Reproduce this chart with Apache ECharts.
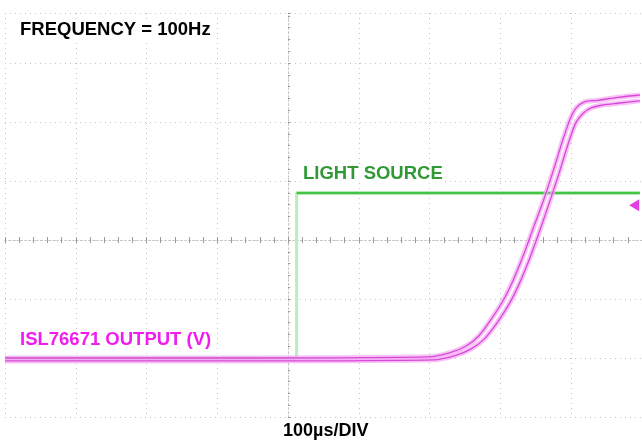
<!DOCTYPE html>
<html>
<head>
<meta charset="utf-8">
<script src="https://cdn.jsdelivr.net/npm/echarts@6/dist/echarts.min.js"></script>
<style>html,body{margin:0;padding:0;background:#fff;}#c{width:642px;height:440px;}</style>
</head>
<body>
<div id="c"></div>
<script>
// time in µs (100 µs/div), amplitude in divisions
var outAx = [-400,-125,199,231,251,269,287,304,318,332,346,361,375,389,399,407,418,438,466,497];
var outAy = [-2.0,-2.0,-1.98,-1.9,-1.8,-1.63,-1.34,-1.02,-0.68,-0.27,0.19,0.68,1.19,1.73,2.07,2.24,2.34,2.37,2.42,2.46];
var outBx = [-400,-125,206,238,258,277,296,313,327,341,355,369,383,397,407,417,428,445,466,497];
var outBy = [-2.05,-2.05,-2.03,-1.95,-1.85,-1.68,-1.39,-1.07,-0.73,-0.32,0.14,0.63,1.14,1.68,2.0,2.15,2.24,2.29,2.32,2.36];
var lightX = [-400, 12, 12, 497];
var lightY = [-2.0, -2.0, 0.8, 0.8];
var lightHighX = [12, 497];
var lightHighY = [0.8, 0.8];
var trigMarker = [489, 0.59];
var timeMarker = [0, 3.98];

function pairs(xs, ys){ return xs.map(function(x,i){ return [x, ys[i]]; }); }

var gridColor = '#c4c4c4';
function xAx(inside, split){
  return {type:'value', min:-400, max:500, interval:100, position:'bottom',
    axisLine:{show:true, onZero:true, lineStyle:{color:'#c0c0c0', type:[1,3], width:1}},
    axisTick:{show:true, inside:inside, length:3, lineStyle:{color:'#999'}},
    minorTick:{show:true, splitNumber:5, length:3, lineStyle:{color:'#999'}},
    axisLabel:{show:false},
    splitLine:{show:split, lineStyle:{color:gridColor, type:[1,4]}},
    minorSplitLine:{show:false}};
}
function yAx(inside, split){
  return {type:'value', min:-3, max:3.85, interval:1,
    axisLine:{show:true, onZero:true, lineStyle:{color:'#c0c0c0', type:[1,3], width:1}},
    axisTick:{show:true, inside:inside, length:2, lineStyle:{color:'#999'}},
    minorTick:{show:true, splitNumber:5, length:2, lineStyle:{color:'#999'}},
    axisLabel:{show:false},
    splitLine:{show:split, lineStyle:{color:gridColor, type:[1,4]}}};
}
function trace(xs, ys, style, z){
  return {type:'line', xAxisIndex:0, yAxisIndex:0, showSymbol:false, smooth:0.3,
    data:pairs(xs, ys), lineStyle:style, z:z};
}

var chart = echarts.init(document.getElementById('c'));
var font = 'bold 18.5px "Liberation Sans", Arial, sans-serif';
chart.setOption({
  animation:false,
  backgroundColor:'#fff',
  grid:{left:5, top:13, width:639, height:404},
  xAxis:[xAx(true,true), xAx(false,false)],
  yAxis:[yAx(true,true), yAx(false,false)],
  series:[
    {type:'line', xAxisIndex:0, yAxisIndex:0, showSymbol:false, data:pairs(lightX, lightY),
     lineStyle:{color:'#bdeebd', width:3}, z:2},
    {type:'line', xAxisIndex:0, yAxisIndex:0, showSymbol:false, data:pairs(lightHighX, lightHighY),
     lineStyle:{color:'#44c444', width:2.5}, z:3},
    trace(outAx, outAy, {color:'rgba(244,170,244,0.7)', width:5}, 4),
    trace(outBx, outBy, {color:'rgba(244,170,244,0.7)', width:5}, 4),
    trace(outAx, outAy, {color:'#d848d8', width:1.3}, 5),
    (function(){ var s = trace(outBx, outBy, {color:'#d848d8', width:1.3}, 5);
      s.markPoint = {silent:true, data:[
       {coord:trigMarker, symbol:'triangle', symbolRotate:90, symbolSize:[12,10], itemStyle:{color:'#e040e0'}, label:{show:false}},
       {coord:timeMarker, symbol:'triangle', symbolRotate:180, symbolSize:[9,8], itemStyle:{color:'#2040c0'}, label:{show:false}}
      ]}; return s; })()
  ],
  graphic:[
    {type:'text', left:20, top:20, z:10, style:{text:'FREQUENCY = 100Hz', font:font, fill:'#000', backgroundColor:'#fff'}},
    {type:'text', left:303, top:164, z:10, style:{text:'LIGHT SOURCE', font:font, fill:'#2f9a35', backgroundColor:'#fff'}},
    {type:'text', left:20, top:330, z:10, style:{text:'ISL76671 OUTPUT (V)', font:font, fill:'#f01cf0', backgroundColor:'#fff'}},
    {type:'text', left:283, top:422, z:10, style:{text:'100µs/DIV', font:'bold 18px "Liberation Sans", Arial, sans-serif', fill:'#000'}}
  ]
});
</script>
</body>
</html>
